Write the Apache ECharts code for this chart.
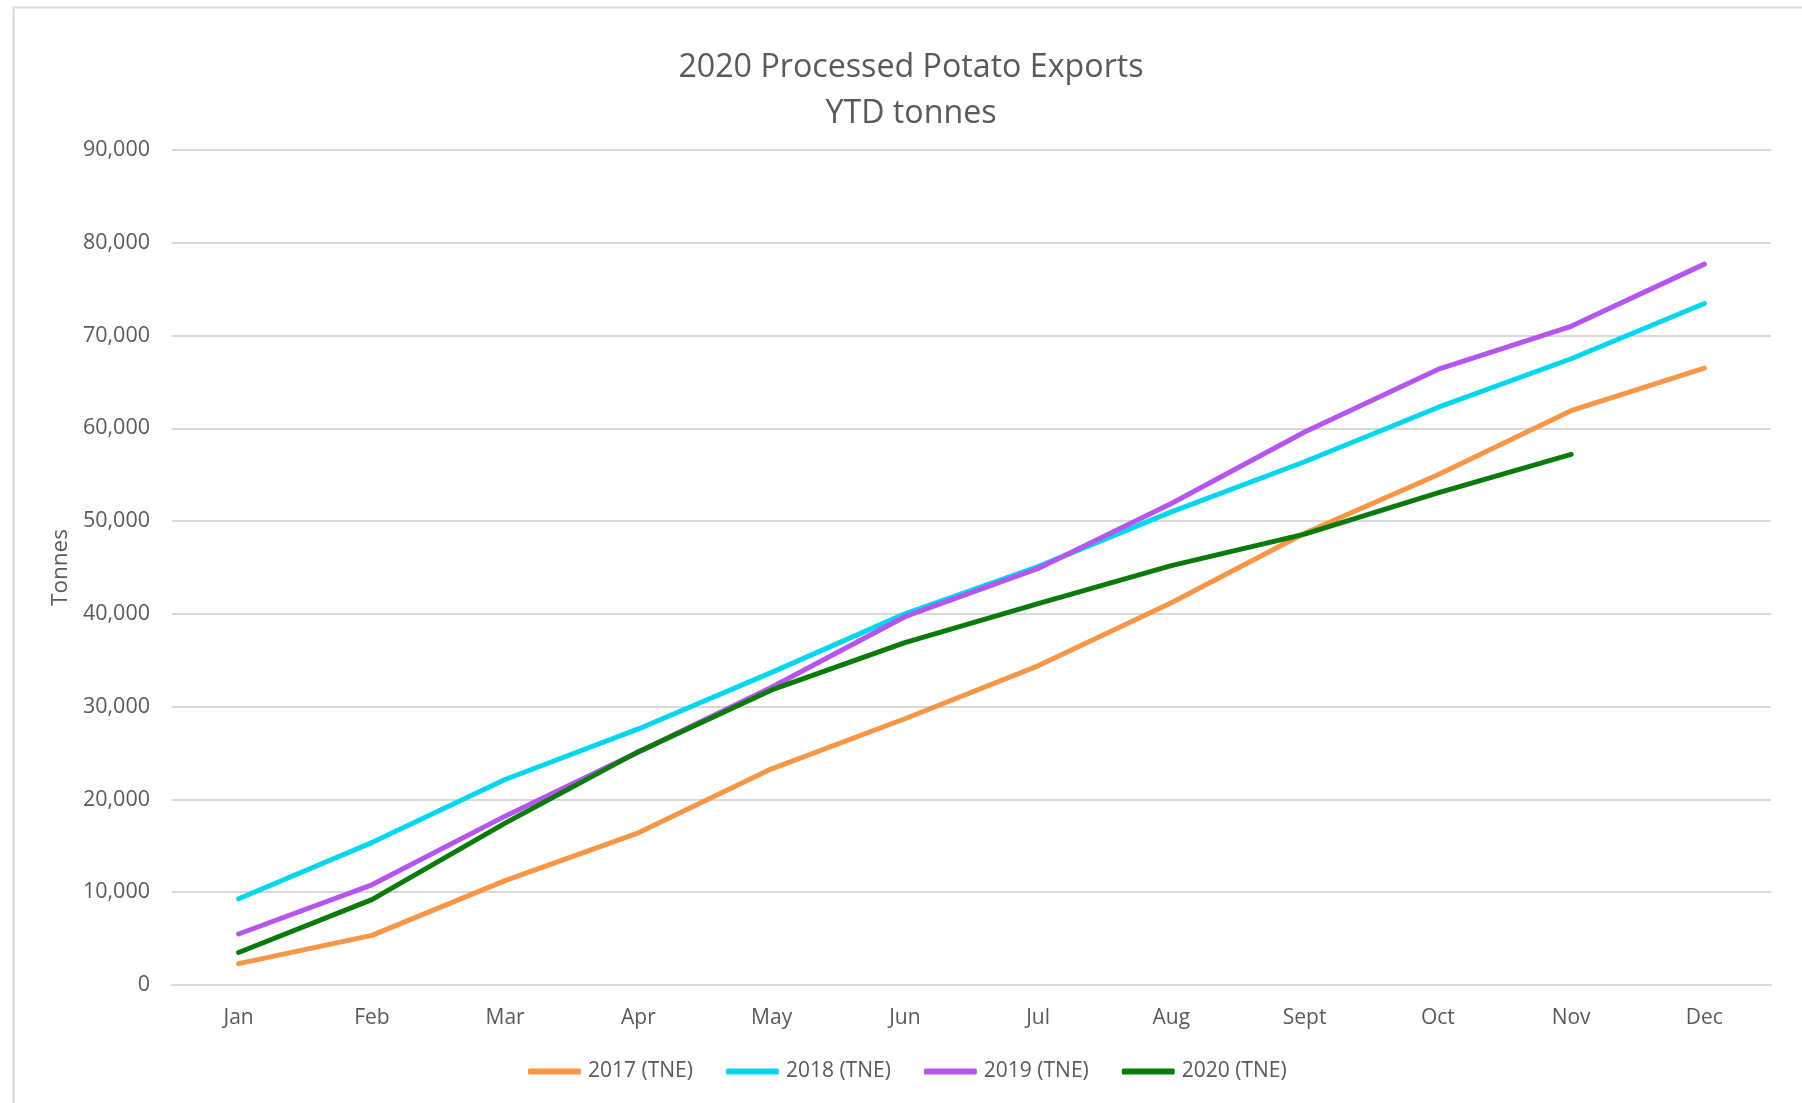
<!DOCTYPE html>
<html>
<head>
<meta charset="utf-8">
<script src="https://cdn.jsdelivr.net/npm/echarts@6/dist/echarts.min.js"></script>
<style>
html,body{margin:0;padding:0;background:#fff;}
#chart{width:1802px;height:1103px;}
</style>
</head>
<body>
<div id="chart"></div>
<script>
const months = ['Jan','Feb','Mar','Apr','May','Jun','Jul','Aug','Sept','Oct','Nov','Dec'];
const s2017 = [2300, 5350, 11250, 16400, 23300, 28700, 34400, 41200, 48700, 55000, 61900, 66500];
const s2018 = [9300, 15350, 22150, 27600, 33700, 40000, 45100, 51000, 56400, 62250, 67500, 73450];
const s2019 = [5500, 10800, 18200, 25100, 32100, 39700, 44900, 51900, 59600, 66350, 71000, 77700];
const s2020 = [3500, 9200, 17450, 25150, 31800, 36900, 41100, 45200, 48600, 53050, 57200, null];
const seriesNames = ['2017 (TNE)','2018 (TNE)','2019 (TNE)','2020 (TNE)'];
const colors = ['#F79646','#00D7EF','#B455EE','#0A7A0B'];

const font = '"Open Sans", "Noto Sans", sans-serif';
const chart = echarts.init(document.getElementById('chart'), null, {renderer:'canvas'});
const mk = (name, data, color) => ({
  name, type:'line', data, symbol:'none', smooth:false,
  lineStyle:{width:5, color, cap:'round', join:'round'},
  itemStyle:{color},
  connectNulls:false
});
chart.setOption({
  backgroundColor:'#fff',
  animation:false,
  textStyle:{fontFamily:font, color:'#595959'},
  graphic:[{type:'rect', left:11, top:5, shape:{width:1790, height:1110}, style:{fill:'none', stroke:'#d9d9d9', lineWidth:2}}],
  title:{
    text:'2020 Processed Potato Exports\nYTD tonnes',
    left:906, textAlign:'center', top:40,
    textStyle:{fontFamily:font, fontSize:32.2, fontWeight:'normal', color:'#595959', lineHeight:46}
  },
  legend:{
    bottom:16, left:528, padding:[5,0,5,0],
    itemWidth:53, itemHeight:6, itemGap:33,
    icon:'roundRect',
    textStyle:{fontFamily:font, fontSize:21, color:'#595959', padding:[0,0,0,2]},
    data:seriesNames
  },
  grid:{left:172, right:31, top:150, bottom:118, containLabel:false},
  xAxis:{
    type:'category', data:months, boundaryGap:true,
    axisLine:{show:true, lineStyle:{color:'#d9d9d9', width:2}},
    axisTick:{show:false},
    axisLabel:{fontFamily:font, fontSize:21, color:'#595959', margin:23}
  },
  yAxis:{
    type:'value', min:0, max:90000, interval:10000,
    name:'Tonnes', nameLocation:'middle', nameGap:100, nameRotate:90,
    nameTextStyle:{fontFamily:font, fontSize:22.5, color:'#595959'},
    axisLine:{show:false}, axisTick:{show:false},
    axisLabel:{fontFamily:font, fontSize:21.5, color:'#595959', margin:22,
      formatter:v=>v.toLocaleString('en-US')},
    splitLine:{lineStyle:{color:'#d9d9d9', width:2}}
  },
  series:[
    mk(seriesNames[0], s2017, colors[0]),
    mk(seriesNames[1], s2018, colors[1]),
    mk(seriesNames[2], s2019, colors[2]),
    mk(seriesNames[3], s2020, colors[3])
  ]
});
</script>
</body>
</html>
